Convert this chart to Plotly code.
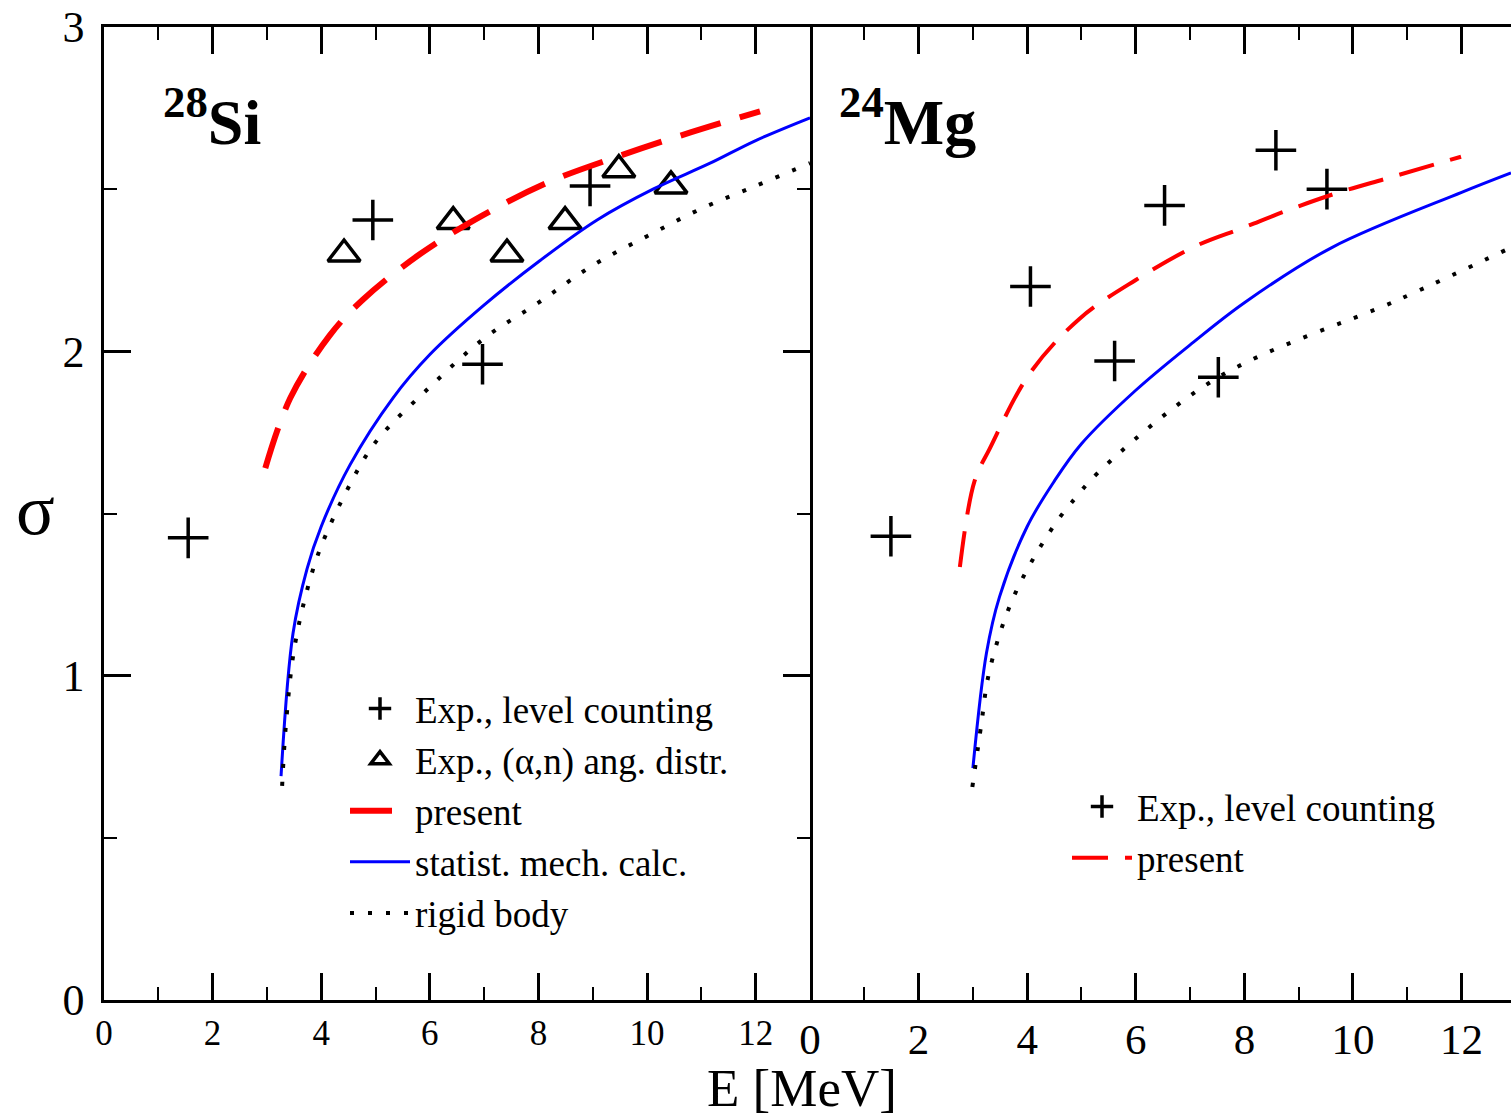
import plotly.graph_objects as go

# ---------------- data ----------------
# 28Si panel
si_lc_x = [1.55, 4.95, 6.97, 8.95]
si_lc_y = [1.425, 2.405, 1.96, 2.51]
si_an_x = [4.42, 6.43, 7.42, 8.49, 9.48, 10.44]
si_an_y = [2.30, 2.40, 2.30, 2.40, 2.56, 2.51]
si_present_x = [2.97, 3.43, 4.16, 4.77, 5.82, 6.98, 8.16, 9.45, 10.8, 12.08]
si_present_y = [1.64, 1.856, 2.05, 2.16, 2.30, 2.42, 2.52, 2.60, 2.675, 2.74]
si_stat_x = [3.26, 3.48, 3.74, 4.0, 4.53, 5.32, 6.0, 6.98, 8.03, 9.08, 10.11, 11.16, 12.0, 13.0]
si_stat_y = [0.69, 1.13, 1.33, 1.46, 1.65, 1.856, 1.99, 2.14, 2.28, 2.405, 2.50, 2.58, 2.65, 2.72]
si_rigid_x = [3.28, 3.35, 3.5, 3.75, 4.0, 4.5, 5.0, 6.0, 7.0, 8.0, 9.0, 10.0, 11.0, 12.0, 13.0]
si_rigid_y = [0.66, 0.85, 1.08, 1.27, 1.40, 1.58, 1.72, 1.89, 2.04, 2.15, 2.265, 2.355, 2.44, 2.51, 2.58]

# 24Mg panel
mg_lc_x = [1.49, 4.06, 5.61, 6.53, 7.52, 8.58, 9.52]
mg_lc_y = [1.43, 2.20, 1.97, 2.45, 1.92, 2.62, 2.50]
mg_present_x = [2.76, 3.03, 3.31, 4.04, 4.96, 6.0, 7.11, 7.96, 8.88, 9.74, 10.66, 11.99]
mg_present_y = [1.335, 1.60, 1.70, 1.93, 2.10, 2.22, 2.325, 2.38, 2.44, 2.49, 2.535, 2.60]
mg_stat_x = [3.0, 3.25, 3.49, 4.0, 4.5, 5.0, 6.0, 7.0, 8.0, 9.61, 12.0, 12.91]
mg_stat_y = [0.715, 1.07, 1.243, 1.46, 1.60, 1.715, 1.88, 2.02, 2.15, 2.32, 2.49, 2.55]
mg_rigid_x = [2.99, 3.16, 3.27, 3.47, 3.75, 4.12, 4.54, 4.80, 5.33, 7.52, 10.85, 12.91]
mg_rigid_y = [0.657, 0.857, 0.987, 1.116, 1.243, 1.363, 1.474, 1.53, 1.63, 1.92, 2.16, 2.32]

x_ticks = [0, 2, 4, 6, 8, 10, 12]
y_ticks = [0, 1, 2, 3]

FONT = "Liberation Serif"
W, H = 1511, 1119

fig = go.Figure()

# ---- left panel traces ----
fig.add_trace(go.Scatter(x=si_lc_x, y=si_lc_y, mode="markers", name="Exp., level counting",
                         marker=dict(symbol="cross-thin", size=29, line=dict(width=3.5, color="black")),
                         xaxis="x", yaxis="y", legend="legend"))
fig.add_trace(go.Scatter(x=si_an_x, y=si_an_y, mode="markers", name="Exp., (α,n) ang. distr.",
                         marker=dict(symbol="triangle-up-open", size=28, color="black",
                                     line=dict(width=3.5, color="black")),
                         xaxis="x", yaxis="y", legend="legend"))
fig.add_trace(go.Scatter(x=si_present_x, y=si_present_y, mode="lines", name="present",
                         line=dict(color="#ff0000", width=6, dash="42px,20px", shape="spline"),
                         xaxis="x", yaxis="y", legend="legend"))
fig.add_trace(go.Scatter(x=si_stat_x, y=si_stat_y, mode="lines", name="statist. mech. calc.",
                         line=dict(color="#0000ff", width=3, shape="spline"),
                         xaxis="x", yaxis="y", legend="legend"))
fig.add_trace(go.Scatter(x=si_rigid_x, y=si_rigid_y, mode="lines", name="rigid body",
                         line=dict(color="black", width=4, dash="4px,14px", shape="spline"),
                         xaxis="x", yaxis="y", legend="legend"))

# ---- right panel traces ----
fig.add_trace(go.Scatter(x=mg_lc_x, y=mg_lc_y, mode="markers", name="Exp., level counting",
                         marker=dict(symbol="cross-thin", size=29, line=dict(width=3.5, color="black")),
                         xaxis="x2", yaxis="y2", legend="legend2"))
fig.add_trace(go.Scatter(x=mg_present_x, y=mg_present_y, mode="lines", name="present",
                         line=dict(color="#ff0000", width=4, dash="36px,17px", shape="spline"),
                         xaxis="x2", yaxis="y2", legend="legend2"))
fig.add_trace(go.Scatter(x=mg_stat_x, y=mg_stat_y, mode="lines", name="statist. mech. calc.",
                         line=dict(color="#0000ff", width=3, shape="spline"), showlegend=False,
                         xaxis="x2", yaxis="y2"))
fig.add_trace(go.Scatter(x=mg_rigid_x, y=mg_rigid_y, mode="lines", name="rigid body",
                         line=dict(color="black", width=4, dash="4px,14px", shape="spline"),
                         showlegend=False, xaxis="x2", yaxis="y2"))

x0, xm, x1 = 104 / W, 810 / W, 1.0
y0, y1 = 1 - 1000 / H, 1 - 27 / H

common_ticks = dict(ticks="inside", ticklen=27, tickwidth=2.5, tickcolor="black",
                    showgrid=False, zeroline=False, linecolor="black", linewidth=2.5,
                    showline=True, automargin=False)

fig.update_layout(
    width=W, height=H,
    margin=dict(l=0, r=0, t=0, b=0, autoexpand=False),
    paper_bgcolor="white", plot_bgcolor="white",
    font=dict(family=FONT, color="black"),
    xaxis=dict(domain=[x0, xm], range=[0, 13], tickvals=x_ticks, mirror="ticks",
               tickfont=dict(size=35, family=FONT, color="black"), anchor="y",
               minor=dict(dtick=1, ticklen=13, tickwidth=2, tickcolor="black", ticks="inside"),
               **common_ticks),
    yaxis=dict(domain=[y0, y1], range=[0, 3], tickvals=y_ticks, mirror="ticks",
               tickfont=dict(size=44, family=FONT, color="black"), anchor="x",
               ticklabelstandoff=8,
               minor=dict(dtick=0.5, ticklen=13, tickwidth=2, tickcolor="black", ticks="inside"),
               **common_ticks),
    xaxis2=dict(domain=[xm, x1], range=[0, 12.91], tickvals=x_ticks, mirror="ticks",
                tickfont=dict(size=43, family=FONT, color="black"), anchor="y2",
                minor=dict(dtick=1, ticklen=13, tickwidth=2, tickcolor="black", ticks="inside"),
                **common_ticks),
    yaxis2=dict(domain=[y0, y1], range=[0, 3], showline=False, showticklabels=False,
                ticks="", showgrid=False, zeroline=False, anchor="x2", automargin=False),
    legend=dict(x=345 / W, y=1 - 678 / H, xanchor="left", yanchor="top",
                bgcolor="rgba(0,0,0,0)", font=dict(size=37, family=FONT, color="black"),
                itemsizing="trace", itemwidth=60, tracegroupgap=0),
    legend2=dict(x=1067 / W, y=1 - 776 / H, xanchor="left", yanchor="top",
                 bgcolor="rgba(0,0,0,0)", font=dict(size=37, family=FONT, color="black"),
                 itemsizing="trace", itemwidth=60, tracegroupgap=0),
    annotations=[
        dict(text="<b><sup>28</sup>Si</b>", x=1.05, y=2.72, xref="x", yref="y",
             xanchor="left", yanchor="middle", showarrow=False,
             font=dict(size=64, family=FONT, color="black")),
        dict(text="<b><sup>24</sup>Mg</b>", x=0.50, y=2.72, xref="x2", yref="y2",
             xanchor="left", yanchor="middle", showarrow=False,
             font=dict(size=64, family=FONT, color="black")),
        dict(text="σ", x=35 / W, y=1 - 510 / H, xref="paper", yref="paper",
             xanchor="center", yanchor="middle", showarrow=False,
             font=dict(size=72, family=FONT, color="black")),
        dict(text="E [MeV]", x=802 / W, y=1 - 1088 / H, xref="paper", yref="paper",
             xanchor="center", yanchor="middle", showarrow=False,
             font=dict(size=53, family=FONT, color="black")),
    ],
)

fig.write_html("out.html")
